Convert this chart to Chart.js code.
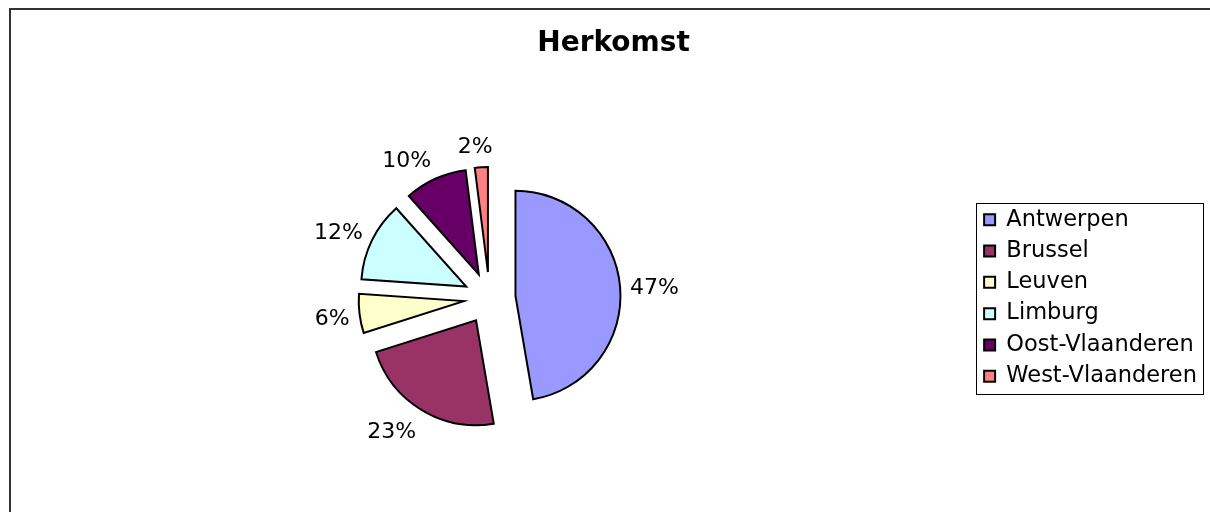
<!DOCTYPE html>
<html><head><meta charset="utf-8">
<script src="https://cdn.jsdelivr.net/npm/chart.js@4.4.1/dist/chart.umd.min.js"></script>
<style>
html,body{margin:0;padding:0;background:#fff;overflow:hidden;width:1210px;height:512px}
#frame{position:absolute;left:9px;top:8px;width:1240px;height:540px;border-left:2px solid #333;border-top:2px solid #333;box-sizing:border-box}
#c{position:absolute;left:0;top:0}
</style></head><body>
<div id="frame"></div>
<canvas id="c" width="1225" height="512"></canvas>
<script>
// ---- data ----
const chartTitle = 'Herkomst';
const categories = ['Antwerpen', 'Brussel', 'Leuven', 'Limburg', 'Oost-Vlaanderen', 'West-Vlaanderen'];
const shares = [47.3, 22.8, 6.0, 12.3, 9.6, 2.0];
const colors = ['#9999FF', '#993366', '#FFFFCC', '#CCFFFF', '#660066', '#FF8080'];

// ---- style ----
const FONT = "Verdana, 'DejaVu Sans', sans-serif";
const EXPLODE = 26;
const LABEL_GAP = 10;
const LABEL_SIZE = 22;

const explodePlugin = {
  id: 'explode',
  beforeDatasetDraw(chart, args) {
    const ctx = chart.ctx;
    args.meta.data.forEach(arc => {
      const mid = (arc.startAngle + arc.endAngle) / 2;
      ctx.save();
      ctx.translate(Math.cos(mid) * EXPLODE, Math.sin(mid) * EXPLODE);
      arc.draw(ctx);
      ctx.restore();
    });
    return false;
  }
};

const pctLabels = {
  id: 'pctLabels',
  afterDatasetsDraw(chart) {
    const ctx = chart.ctx;
    const meta = chart.getDatasetMeta(0);
    const data = chart.data.datasets[0].data;
    const total = data.reduce((a, b) => a + b, 0);
    ctx.save();
    ctx.font = LABEL_SIZE + 'px ' + FONT;
    ctx.fillStyle = '#000';
    ctx.textAlign = 'center';
    ctx.textBaseline = 'middle';
    const clamp = v => Math.max(-1, Math.min(1, v));
    meta.data.forEach((arc, i) => {
      const txt = Math.round(data[i] / total * 100) + '%';
      const mid = (arc.startAngle + arc.endAngle) / 2;
      const dx = Math.cos(mid), dy = Math.sin(mid);
      const r = arc.outerRadius + EXPLODE + LABEL_GAP;
      const w = ctx.measureText(txt).width, h = 26;
      ctx.fillText(txt, arc.x + dx * r + clamp(dx * 5) * w / 2, arc.y + dy * r + dy * h / 2 + 3);
    });
    ctx.restore();
  }
};

const legendFrame = {
  id: 'legendFrame',
  afterDraw(chart) {
    const boxes = chart.legend && chart.legend.legendHitBoxes;
    if (!boxes || !boxes.length) return;
    const ctx = chart.ctx;
    const left = Math.min(...boxes.map(b => b.left)) - 8;
    const right = Math.max(...boxes.map(b => b.left + b.width)) + 6;
    const top = boxes[0].top - 6;
    const last = boxes[boxes.length - 1];
    const bottom = last.top + last.height + 6;
    ctx.save();
    ctx.strokeStyle = '#000';
    ctx.lineWidth = 1;
    ctx.strokeRect(Math.round(left) + 0.5, Math.round(top) + 0.5, Math.round(right - left), Math.round(bottom - top));
    ctx.restore();
  }
};

Chart.defaults.font.family = FONT;
Chart.defaults.color = '#000';

new Chart(document.getElementById('c'), {
  type: 'pie',
  data: {
    labels: categories,
    datasets: [{
      data: shares,
      backgroundColor: colors,
      borderColor: '#000',
      borderWidth: 2,
      borderJoinStyle: 'miter'
    }]
  },
  options: {
    responsive: false,
    devicePixelRatio: 1,
    animation: false,
    events: [],
    radius: 105,
    layout: { padding: { top: 10, bottom: 1.8, left: 3.8, right: 1.8 } },
    plugins: {
      title: {
        display: true,
        text: chartTitle,
        color: '#000',
        font: { size: 28, weight: 'bold', lineHeight: 1.2 },
        padding: { top: 17.2, bottom: 25 }
      },
      subtitle: {
        display: true,
        position: 'right',
        text: '',
        font: { size: 1, lineHeight: 1 },
        padding: { top: 0, bottom: 15.25 }
      },
      legend: {
        position: 'right',
        fullSize: false,
        align: 'center',
        labels: {
          font: { size: 22.5 },
          color: '#000',
          boxWidth: 11,
          boxHeight: 11,
          padding: 8.8
        }
      },
      tooltip: { enabled: false }
    }
  },
  plugins: [explodePlugin, pctLabels, legendFrame]
});
</script>
</body></html>
